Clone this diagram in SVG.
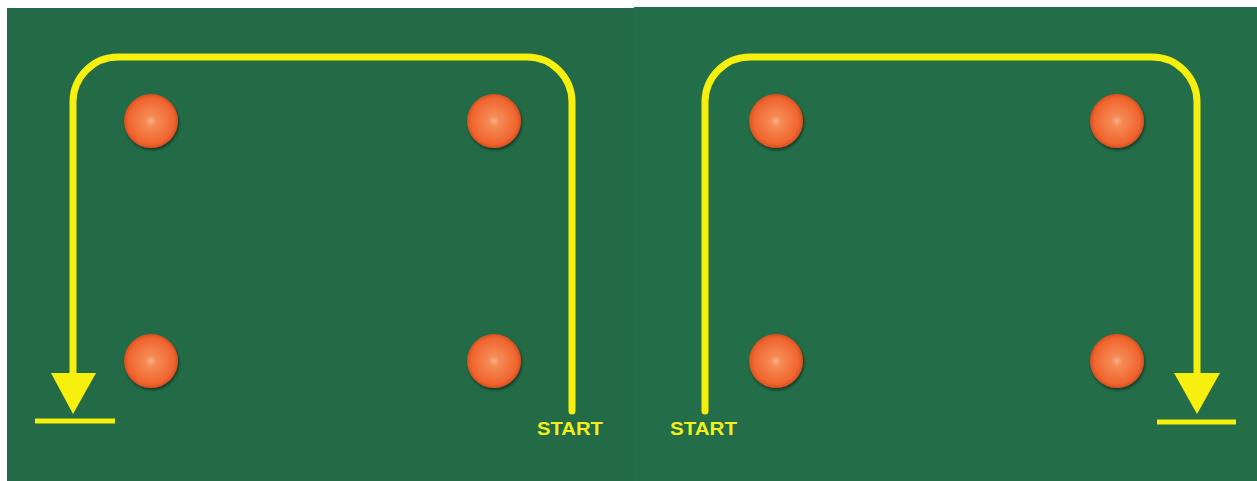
<svg xmlns="http://www.w3.org/2000/svg" width="1257" height="481" viewBox="0 0 1257 481">
<defs>
<radialGradient id="ball" cx="0.5" cy="0.5" r="0.5" fx="0.5" fy="0.5">
<stop offset="0" stop-color="#f7b08a"/>
<stop offset="0.2" stop-color="#f58a55"/>
<stop offset="0.85" stop-color="#f0652e"/>
<stop offset="1" stop-color="#d8501f"/>
</radialGradient>
<filter id="sh" x="-30%" y="-30%" width="160%" height="160%">
<feGaussianBlur in="SourceAlpha" stdDeviation="1.5"/>
<feOffset dx="1" dy="2"/>
<feComponentTransfer><feFuncA type="linear" slope="0.5"/></feComponentTransfer>
<feMerge><feMergeNode/><feMergeNode in="SourceGraphic"/></feMerge>
</filter>
</defs>
<style>
.path{fill:none;stroke:#f7f00f;stroke-width:7;stroke-linecap:round}
.base{stroke:#f7f00f;stroke-width:5}
.head{fill:#f7f00f}
.lbl{font-family:"Liberation Sans",Arial,sans-serif;font-weight:bold;font-size:18px;fill:#f2ef1a}
.ball{fill:url(#ball);filter:url(#sh)}
</style>
<rect width="1257" height="481" fill="#ffffff"/>
<rect x="7" y="8" width="628" height="473" fill="#236b47"/>
<rect x="634" y="7" width="623" height="474" fill="#236d48"/>
<g id="balls">
<g id="ball1"><circle class="ball" cx="151" cy="121" r="27"/></g>
<g id="ball2"><circle class="ball" cx="494" cy="121" r="27"/></g>
<g id="ball3"><circle class="ball" cx="151" cy="361" r="27"/></g>
<g id="ball4"><circle class="ball" cx="494" cy="361" r="27"/></g>
<g id="ball5"><circle class="ball" cx="776" cy="121" r="27"/></g>
<g id="ball6"><circle class="ball" cx="1117" cy="121" r="27"/></g>
<g id="ball7"><circle class="ball" cx="776" cy="361" r="27"/></g>
<g id="ball8"><circle class="ball" cx="1117" cy="361" r="27"/></g>
</g>
<g id="connectors">
<path class="path" d="M572 411 V102 A45 45 0 0 0 527 57 H118 A45 45 0 0 0 73 102 V380"/>
<polygon class="head" points="51,373 96,373 73,414"/>
<line class="base" x1="35" y1="421" x2="115" y2="421"/>
<path class="path" d="M705 411 V102 A45 45 0 0 1 750 57 H1152 A45 45 0 0 1 1197 102 V380"/>
<polygon class="head" points="1174,373 1220,373 1197,414"/>
<line class="base" x1="1157" y1="422" x2="1236" y2="422"/>
</g>
<g id="labels">
<text class="lbl" x="537" y="435" textLength="66" lengthAdjust="spacingAndGlyphs">START</text>
<text class="lbl" x="670" y="435" textLength="67" lengthAdjust="spacingAndGlyphs">START</text>
</g>
</svg>
